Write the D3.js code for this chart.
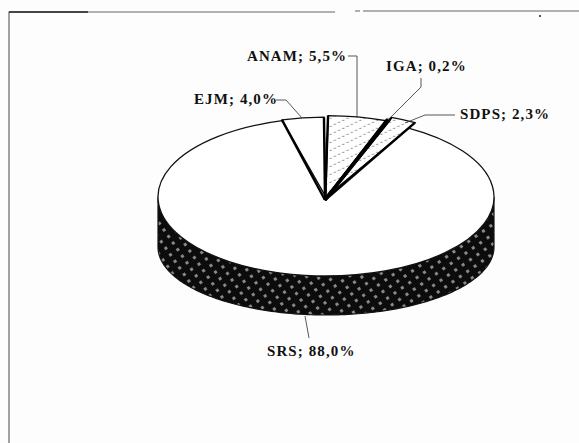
<!DOCTYPE html>
<html>
<head>
<meta charset="utf-8">
<script src="https://cdnjs.cloudflare.com/ajax/libs/d3/7.8.5/d3.min.js"></script>
<style>
  html, body { margin: 0; padding: 0; background: #fdfdfd; }
  text { font-family: "Liberation Serif", serif; font-size: 15px; font-weight: bold; fill: #111; letter-spacing: 1.1px; }
</style>
</head>
<body>
<div id="chart"></div>
<script>
var categories = ['ANAM', 'IGA', 'SDPS', 'SRS', 'EJM']
var shares = [5.5, 0.2, 2.3, 88.0, 4.0]
var shareLabels = ['5,5%', '0,2%', '2,3%', '88,0%', '4,0%']

var width = 579, height = 443
var cx = 326, cy = 197, rx = 168, ry = 79
// the wall's lower rim is flatter than the face, and sits lower at the sides
var wallDrop = 50, wallRy = 68

// small slices stick out a bit past the big one
var radiusScale = { ANAM: 1.03, IGA: 1.05, SDPS: 1.08, SRS: 1, EJM: 1.01 }

var labelPos = {
  ANAM: { x: 247, y: 61, leader: [[348, 56], [357, 56], [357, 118]] },
  IGA: { x: 386, y: 71, leader: [[421, 78], [421, 87], [388, 120]] },
  SDPS: { x: 460, y: 119, leader: [[455, 115], [425, 115], [405, 123]] },
  SRS: { x: 267, y: 356, leader: [[309, 338], [305, 316]] },
  EJM: { x: 194, y: 104, leader: [[276, 100], [286, 100], [302, 118]] }
}

var svg = d3.select('#chart').append('svg')
  .attr('width', width)
  .attr('height', height)
  .style('display', 'block')

var defs = svg.append('defs')

var wallPattern = defs.append('pattern')
  .attr('id', 'wall')
  .attr('width', 9)
  .attr('height', 8)
  .attr('patternUnits', 'userSpaceOnUse')
  .attr('patternTransform', 'rotate(-35)')
wallPattern.append('rect').attr('width', 9).attr('height', 8).attr('fill', '#0c0c0c')
wallPattern.append('rect').attr('x', 1).attr('y', 1).attr('width', 3).attr('height', 3).attr('fill', '#888')

var hatch = defs.append('pattern')
  .attr('id', 'hatch')
  .attr('width', 12)
  .attr('height', 12)
  .attr('patternUnits', 'userSpaceOnUse')
  .attr('patternTransform', 'rotate(-45)')
hatch.append('line')
  .attr('x1', 0).attr('x2', 12).attr('y1', 5).attr('y2', 5)
  .attr('stroke', '#555')
  .attr('stroke-width', 1)
  .attr('stroke-dasharray', '3 3')

// frame, only top and left came out on the scan
svg.append('path')
  .attr('d', 'M9,443V12H335M355,11H360M363,11H579')
  .attr('fill', 'none')
  .attr('stroke', '#666')
  .attr('stroke-width', 1.2)
svg.append('path')
  .attr('d', 'M9,12H88')
  .attr('stroke', '#222')
  .attr('stroke-width', 1.4)
svg.append('circle').attr('cx', 540).attr('cy', 16).attr('r', 1).attr('fill', '#222')

var pie = d3.pie()
  .sort(null)
  .startAngle(0.012)
  .endAngle(2 * Math.PI - 0.012)

var arcs = pie(shares)

function project (angle, k) {
  return [cx + rx * k * Math.sin(angle), cy - ry * k * Math.cos(angle)]
}

// side wall: the front half of the ellipse pushed down
var front = d3.range(Math.PI / 2, 1.5 * Math.PI + 0.001, 0.02)
var wallArea = d3.area()
  .x(function (a) { return project(a, 1)[0] })
  .y0(function (a) { return project(a, 1)[1] })
  .y1(function (a) { return cy + wallDrop - wallRy * Math.cos(a) })

svg.append('path')
  .attr('d', wallArea(front))
  .attr('fill', 'url(#wall)')
  .attr('stroke', '#111')
  .attr('stroke-width', 1.2)

var face = svg.append('g')
  .attr('transform', 'translate(' + cx + ',' + cy + ') scale(1,' + ry / rx + ')')

var arc = d3.arc().innerRadius(0)

var fills = { ANAM: 'url(#hatch)', IGA: '#000', SDPS: 'url(#hatch)', SRS: '#fff', EJM: '#fff' }

// big slice first so the small ones sit over its rim
var order = [3, 4, 0, 1, 2]
order.forEach(function (i) {
  var name = categories[i]
  var d = arcs[i]
  var path = arc.outerRadius(rx * radiusScale[name])(d)
  if (name === 'ANAM' || name === 'SDPS') {
    face.append('path').attr('d', path).attr('fill', '#fff')
  }
  face.append('path')
    .attr('d', path)
    .attr('fill', fills[name])
    .attr('stroke', '#111')
    .attr('stroke-width', 1.3)
    .attr('vector-effect', 'non-scaling-stroke')
})

// heavy radial edges
var radial = d3.line()
categories.forEach(function (name, i) {
  if (name === 'SRS') return
  var d = arcs[i]
  ;[d.startAngle, d.endAngle].forEach(function (a) {
    svg.append('path')
      .attr('d', radial([[cx - 1, cy + 3], project(a, radiusScale[name])]))
      .attr('stroke', '#000')
      .attr('stroke-width', name === 'IGA' ? 3 : 2.4)
      .attr('fill', 'none')
  })
})

categories.forEach(function (name, i) {
  var pos = labelPos[name]
  svg.append('path')
    .attr('d', d3.line()(pos.leader))
    .attr('fill', 'none')
    .attr('stroke', '#444')
    .attr('stroke-width', 0.9)
  svg.append('text')
    .attr('x', pos.x)
    .attr('y', pos.y)
    .text(name + '; ' + shareLabels[i])
})
</script>
</body>
</html>
